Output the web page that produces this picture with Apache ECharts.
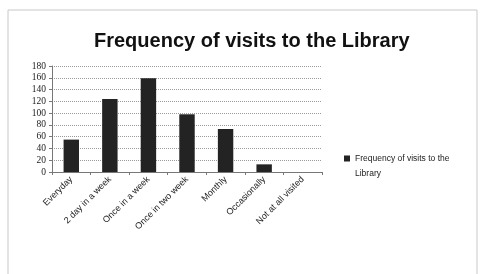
<!DOCTYPE html>
<html>
<head>
<meta charset="utf-8">
<script src="https://cdn.jsdelivr.net/npm/echarts@6/dist/echarts.min.js"></script>
<style>
  html, body { margin: 0; padding: 0; background: #fff; }
  #main { width: 481px; height: 274px; }
</style>
</head>
<body>
<div id="main"></div>
<script>
// data
var categories = ['Everyday', '2 day in a week', 'Once in a week', 'Once in two week', 'Monthly', 'Occasionally', 'Not at all visited'];
var visits = [55, 124, 159, 98, 73, 13, 0];
var seriesName = 'Frequency of visits to the Library';

var chart = echarts.init(document.getElementById('main'));
var option = {
    animation: false,
    backgroundColor: '#fff',
    graphic: [{
        type: 'rect',
        shape: { x: 8, y: 10, width: 469, height: 290 },
        style: { fill: 'none', stroke: '#c8c8c8', lineWidth: 1 }
    }],
    title: {
        text: 'Frequency of visits to the Library',
        left: 89,
        top: 26,
        textStyle: {
            fontFamily: 'Liberation Sans',
            fontWeight: 'bold',
            fontSize: 20,
            color: '#111'
        }
    },
    legend: {
        left: 344,
        top: 139,
        padding: 0,
        itemWidth: 6,
        itemHeight: 6,
        icon: 'rect',
        // empty first line so the marker sits next to the first text line
        formatter: function () { return '{e| }\n{t|Frequency of visits to the}\n{t|Library}'; },
        textStyle: {
            color: '#222',
            rich: {
                e: { fontSize: 8.5, lineHeight: 15 },
                t: { fontSize: 8.5, lineHeight: 15, color: '#222', fontFamily: 'Liberation Sans' }
            }
        }
    },
    grid: { left: 52, right: 159, top: 66, bottom: 102 },
    xAxis: {
        type: 'category',
        data: categories,
        axisLine: { lineStyle: { color: '#777' } },
        axisTick: { show: true, length: 3, lineStyle: { color: '#777' } },
        axisLabel: {
            rotate: 45,
            interval: 0,
            fontSize: 9,
            color: '#222',
            fontFamily: 'Liberation Sans',
            margin: 6
        }
    },
    yAxis: {
        type: 'value',
        min: 0,
        max: 180,
        interval: 20,
        axisLine: { show: true, lineStyle: { color: '#777' } },
        axisTick: { show: true, length: 3, lineStyle: { color: '#777' } },
        axisLabel: { fontSize: 9.5, color: '#222', fontFamily: 'Liberation Serif', margin: 6 },
        splitLine: { lineStyle: { color: '#999', type: 'dotted' } }
    },
    series: [{
        name: seriesName,
        type: 'bar',
        data: visits,
        barWidth: '40%',
        itemStyle: { color: '#232323' }
    }]
};
chart.setOption(option);
</script>
</body>
</html>
